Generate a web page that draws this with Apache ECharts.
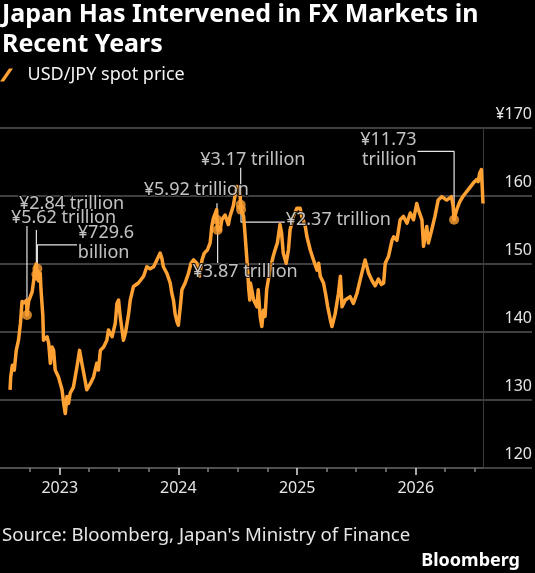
<!DOCTYPE html>
<html><head><meta charset="utf-8">
<script src="https://cdn.jsdelivr.net/npm/echarts@6/dist/echarts.min.js"></script>
<style>html,body{margin:0;padding:0;background:#000;}#c{width:535px;height:573px;}</style>
</head><body><div id="c"></div>
<script>
// ---- data ----
const dates = [
'2022-08-01','2022-08-03','2022-08-08','2022-08-14','2022-08-20','2022-08-27','2022-09-02','2022-09-07','2022-09-14','2022-09-21',
'2022-09-22','2022-09-27','2022-10-03','2022-10-08','2022-10-13','2022-10-20','2022-10-21','2022-10-24','2022-10-28','2022-11-02',
'2022-11-04','2022-11-09','2022-11-10','2022-11-12','2022-11-23','2022-11-28','2022-12-03','2022-12-08','2022-12-13','2022-12-18',
'2022-12-28','2023-01-08','2023-01-13','2023-01-18','2023-01-23','2023-01-28','2023-02-02','2023-02-12','2023-02-23','2023-03-03',
'2023-03-10','2023-03-20','2023-03-25','2023-04-05','2023-04-15','2023-04-25','2023-04-30','2023-05-06','2023-05-16','2023-05-26',
'2023-05-31','2023-06-11','2023-06-21','2023-06-26','2023-07-01','2023-07-06','2023-07-16','2023-07-22','2023-08-01','2023-08-06',
'2023-08-16','2023-08-31','2023-09-16','2023-09-26','2023-10-06','2023-10-17','2023-10-27','2023-11-06','2023-11-11','2023-11-16',
'2023-11-27','2023-12-07','2023-12-12','2023-12-17','2023-12-22','2023-12-28','2024-01-01','2024-01-07','2024-01-12','2024-01-22',
'2024-02-01','2024-02-09','2024-02-17','2024-02-27','2024-03-06','2024-03-14','2024-03-21','2024-03-31','2024-04-08','2024-04-13',
'2024-04-18','2024-04-28','2024-04-29','2024-05-01','2024-05-09','2024-05-14','2024-05-24','2024-06-03','2024-06-08','2024-06-18',
'2024-06-23','2024-06-28','2024-07-03','2024-07-08','2024-07-11','2024-07-12','2024-07-15','2024-07-20','2024-07-25','2024-07-31',
'2024-08-05','2024-08-08','2024-08-10','2024-08-20','2024-08-30','2024-09-03','2024-09-09','2024-09-14','2024-09-19','2024-09-24',
'2024-09-29','2024-10-09','2024-10-19','2024-10-25','2024-11-01','2024-11-09','2024-11-14','2024-11-19','2024-11-28','2024-12-05',
'2024-12-10','2024-12-20','2024-12-31','2025-01-10','2025-01-15','2025-01-26','2025-01-31','2025-02-10','2025-02-20','2025-03-03',
'2025-03-08','2025-03-13','2025-03-23','2025-03-29','2025-04-05','2025-04-13','2025-04-18','2025-04-28','2025-05-08','2025-05-14',
'2025-05-19','2025-05-29','2025-06-13','2025-06-23','2025-07-04','2025-07-14','2025-07-29','2025-08-09','2025-08-20','2025-08-29',
'2025-09-08','2025-09-17','2025-09-24','2025-09-29','2025-10-09','2025-10-20','2025-10-25','2025-11-04','2025-11-14','2025-11-24',
'2025-12-05','2025-12-15','2025-12-25','2026-01-04','2026-01-09','2026-01-20','2026-01-25','2026-02-04','2026-02-09','2026-02-19',
'2026-03-01','2026-03-11','2026-03-22','2026-04-06','2026-04-21','2026-04-26','2026-04-29','2026-05-07','2026-05-17','2026-05-27',
'2026-06-11','2026-06-27','2026-07-07','2026-07-12','2026-07-17','2026-07-22','2026-07-27'
];
const prices = [
131.5,133.4,135.1,134.4,137.3,138.8,141.3,144.5,144.3,144.7,
142.5,144.5,144.7,145.9,147.7,150.0,147.8,149.0,147.5,148.6,
146.4,146.4,142.3,138.8,139.3,138.3,135.4,137.8,137.3,134.4,
133.4,131.5,129.5,128.0,130.5,129.5,131.0,131.9,134.9,137.3,
135.4,132.9,131.5,132.4,133.4,135.4,134.4,137.3,137.8,138.8,
140.3,139.3,141.3,144.2,144.7,142.3,138.8,139.8,142.7,144.7,
146.7,147.2,148.2,149.6,149.3,149.6,150.6,151.6,150.9,149.6,
148.6,147.2,145.7,144.7,142.7,141.5,141.0,143.7,146.2,147.2,
148.6,150.1,150.6,150.1,148.2,150.6,151.6,152.1,153.1,155.5,
156.7,158.0,156.5,155.0,155.0,156.5,157.2,155.8,157.0,158.5,
159.9,161.4,161.6,161.2,158.7,158.0,158.0,157.0,154.0,150.1,
146.2,144.7,147.2,144.7,143.7,146.2,142.3,140.8,143.2,142.3,
146.2,149.1,151.1,152.1,153.1,155.8,154.5,151.6,150.1,152.1,
155.0,157.0,158.2,158.2,157.0,155.5,154.0,152.1,150.6,149.1,
150.1,148.2,147.2,145.7,143.7,141.8,140.8,142.7,145.7,148.2,
143.7,144.7,145.2,144.2,145.7,147.7,150.6,148.6,147.5,146.8,
147.8,147.0,147.2,150.1,151.1,153.5,154.0,153.5,156.5,157.0,
156.0,157.5,156.5,158.9,158.0,156.5,152.6,155.5,153.1,155.0,
157.0,159.4,159.9,159.4,159.9,158.5,156.5,158.0,159.2,160.0,
160.9,161.9,162.4,162.1,163.4,163.9,158.9
];
const interventionDates = ['2022-09-22','2022-10-21','2022-10-24','2024-04-29','2024-05-01','2024-07-11','2024-07-12','2026-04-29'];
const interventionValues = [142.5,148.5,149.3,156.5,155.0,158.7,158.0,156.5];
const interventionLabels = ['¥2.84 trillion','¥5.62 trillion','¥729.6\nbillion','¥5.92 trillion','¥3.87 trillion','¥3.17 trillion','¥2.37 trillion','¥11.73\ntrillion'];
const yearTicks = ['2023-01-01','2024-01-01','2025-01-01','2026-01-01'];
const quarterTicks = ['2022-10-01','2023-04-01','2023-07-01','2023-10-01','2024-04-01','2024-07-01','2024-10-01',
  '2025-04-01','2025-07-01','2025-10-01','2026-04-01','2026-07-01'];
const yMin = 120, yMax = 170, yStep = 10;
const xStart = '2022-07-01', xEnd = '2026-07-27';
const seriesName = 'USD/JPY spot price';

// ---- annotation layout (label anchor + connector path, in data coords) ----
const D = interventionDates, V = interventionValues;
const annoLayout = [
  {at:['2022-08-27',158.8], side:'right', path:[[D[0],155.6],[D[0],V[0]]]},
  {at:['2022-08-02',156.74], side:'right', path:[[D[1],155.0],[D[1],V[1]]]},
  {at:['2023-02-24',153.15], side:'right', path:[['2023-02-23',152.81],[D[2],152.81],[D[2],V[2]]]},
  {at:['2023-09-15',160.91], side:'right', path:[[D[3],158.95],[D[3],V[3]]]},
  {at:['2024-02-12',148.78], side:'right', path:[[D[4],150.15],[D[4],V[4]]]},
  {at:['2024-03-07',165.33], side:'right', path:[[D[5],164.15],[D[5],V[5]]]},
  {at:['2024-11-25',156.49], side:'right', path:[[D[6],V[6]],[D[6],156.15],['2024-11-24',156.15]]},
  {at:['2026-01-05',166.8], side:'left', path:[['2026-01-06',166.55],[D[7],166.55],[D[7],V[7]]]}
];

const FONT = '"Noto Sans", "Open Sans", sans-serif';
const ORANGE = '#FFA133';
const ts = s => +echarts.time.parse(s);
const pt = p => [ts(p[0]), p[1]];

const chart = echarts.init(document.getElementById('c'), null, {renderer:'canvas'});

const connectorSeries = annoLayout.map(a => ({
  type:'line', xAxisIndex:0, yAxisIndex:0, silent:true, symbol:'none', z:3,
  lineStyle:{color:'#e6e6e6', width:1.2}, data:a.path.map(pt), animation:false
}));

const labelSeries = {
  type:'scatter', xAxisIndex:0, yAxisIndex:0, silent:true, z:6, symbolSize:1,
  itemStyle:{color:'rgba(0,0,0,0)'}, animation:false,
  data: annoLayout.map((a,i) => ({
    value:pt(a.at),
    label:{show:true, formatter:interventionLabels[i], position:a.side, distance:0,
      color:'#f2f2f2', fontSize:18, fontFamily:FONT, lineHeight:20,
      textBorderColor:'#000', textBorderWidth:2}
  }))
};

const option = {
  backgroundColor:'#000',
  animation:false,
  textStyle:{fontFamily:FONT},
  title:[
    {text:'Japan Has Intervened in FX Markets in\nRecent Years', left:2, top:0, padding:0,
     textStyle:{color:'#fff', fontSize:25, fontWeight:'bold', lineHeight:30, fontFamily:FONT}},
    {text:"Source: Bloomberg, Japan's Ministry of Finance", left:2, top:525, padding:0,
     textStyle:{color:'#e6e6e6', fontSize:18.6, fontWeight:'normal', lineHeight:22, fontFamily:FONT}},
    {text:'Bloomberg', right:15, top:550, padding:0,
     textStyle:{color:'#fff', fontSize:18, fontWeight:'bold', lineHeight:22, fontFamily:FONT}}
  ],
  legend:{
    data:[seriesName], left:0, top:66, padding:0, itemWidth:14, itemHeight:13, itemGap:10,
    icon:'path://M0,13 L9,0 L13,0 L4,13 Z',
    textStyle:{color:'#f2f2f2', fontSize:18, fontFamily:FONT, padding:[0,0,0,9]}
  },
  grid:[
    {left:0, right:52, top:128, bottom:105, containLabel:false},
    {left:0, right:3, top:128, bottom:105, containLabel:false}
  ],
  xAxis:[
    {type:'value', gridIndex:0, min:ts(xStart), max:ts(xEnd),
     axisLine:{show:true, lineStyle:{color:'#555', width:1.5}},
     axisTick:{show:true, customValues:quarterTicks.map(ts), length:4, lineStyle:{color:'#808080', width:1.5}},
     axisLabel:{show:false}, splitLine:{show:false}},
    {type:'value', gridIndex:0, min:ts(xStart), max:ts(xEnd), position:'bottom',
     axisLine:{show:false},
     axisTick:{show:true, customValues:yearTicks.map(ts), length:7, lineStyle:{color:'#e0e0e0', width:1.5}},
     axisLabel:{show:true, customValues:yearTicks.map(ts), formatter:v => String(new Date(v).getFullYear()),
       color:'#e6e6e6', fontSize:16, fontFamily:FONT, margin:12},
     splitLine:{show:false}},
    {type:'value', gridIndex:1, min:0, max:1, show:false}
  ],
  yAxis:[
    {type:'value', gridIndex:0, position:'right', min:yMin, max:yMax, interval:yStep,
     axisLine:{show:true, lineStyle:{color:'#3a3a3a', width:1}},
     axisTick:{show:false}, axisLabel:{show:false}, splitLine:{show:false}},
    {type:'value', gridIndex:1, position:'right', min:yMin, max:yMax, interval:yStep,
     axisLine:{show:false}, axisTick:{show:false},
     splitLine:{show:true, lineStyle:{color:'#555', width:1.5}},
     axisLabel:{show:true, inside:true, margin:0, color:'#e6e6e6', fontSize:16, fontFamily:FONT,
       verticalAlign:'bottom', lineHeight:20, padding:[0,0,4,0],
       formatter:v => v === yMax ? '¥' + v : String(v)}}
  ],
  series:[
    {name:seriesName, type:'line', xAxisIndex:0, yAxisIndex:0, z:4, symbol:'none', showSymbol:false,
     color:ORANGE, lineStyle:{color:ORANGE, width:3.5, join:'round'},
     data:dates.map((d,i) => [ts(d), prices[i]])},
    ...connectorSeries,
    {type:'scatter', xAxisIndex:0, yAxisIndex:0, z:5, silent:true, symbolSize:10,
     itemStyle:{color:ORANGE},
     data:interventionDates.map((d,i) => [ts(d), interventionValues[i]])},
    labelSeries
  ]
};
chart.setOption(option);
</script>
</body></html>
